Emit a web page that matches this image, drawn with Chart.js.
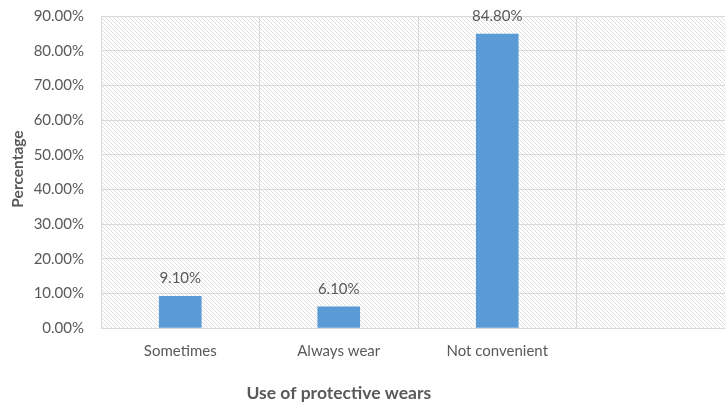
<!DOCTYPE html>
<html>
<head>
<meta charset="utf-8">
<script src="https://cdn.jsdelivr.net/npm/chart.js@4"></script>
<style>
  html, body { margin: 0; padding: 0; background: #fff; overflow: hidden; }
  #wrap { width: 740px; height: 404px; }
</style>
</head>
<body>
<div id="wrap"><canvas id="c" width="740" height="404"></canvas></div>
<script>
// Survey responses: use of protective wears
const categories = ["Sometimes", "Always wear", "Not convenient", ""];
const percentages = [9.1, 6.1, 84.8, null];
const yTicks = [0, 10, 20, 30, 40, 50, 60, 70, 80, 90];
const xTitle = "Use of protective wears";
const yTitle = "Percentage";

const TEXT = "#595959";
const FONT = "Lato, 'Liberation Sans', sans-serif";

// diagonal hatch used as plot-area background
function makeHatch() {
  const s = 4;
  const p = document.createElement("canvas");
  p.width = s; p.height = s;
  const g = p.getContext("2d");
  g.fillStyle = "#ffffff";
  g.fillRect(0, 0, s, s);
  g.strokeStyle = "#dedede";
  g.lineWidth = 1;
  g.beginPath();
  g.moveTo(-1, -1); g.lineTo(s + 1, s + 1);
  g.moveTo(-1, s - 1); g.lineTo(1, s + 1);
  g.moveTo(s - 1, -1); g.lineTo(s + 1, 1);
  g.stroke();
  return p;
}

const hatchPlugin = {
  id: "hatch",
  beforeDraw(chart) {
    const { ctx, chartArea: a } = chart;
    ctx.save();
    ctx.fillStyle = ctx.createPattern(makeHatch(), "repeat");
    ctx.fillRect(a.left, a.top, a.right - a.left, a.bottom - a.top);
    ctx.restore();
  }
};

const labelPlugin = {
  id: "valueLabels",
  afterDatasetsDraw(chart) {
    const { ctx } = chart;
    const meta = chart.getDatasetMeta(0);
    ctx.save();
    ctx.font = "15px " + FONT;
    ctx.fillStyle = TEXT;
    ctx.textAlign = "center";
    ctx.textBaseline = "middle";
    meta.data.forEach((bar, i) => {
      const v = percentages[i];
      if (v == null) return;
      ctx.fillText(v.toFixed(2) + "%", bar.x, bar.y - 18);
    });
    ctx.restore();
  }
};

const titlePlugin = {
  id: "axisTitles",
  afterDraw(chart) {
    const { ctx } = chart;
    const x = chart.scales.x;
    ctx.save();
    ctx.fillStyle = TEXT;
    ctx.textAlign = "center";
    ctx.textBaseline = "middle";
    ctx.font = "bold 17.5px " + FONT;
    ctx.fillText(xTitle, x.getPixelForValue(1), 393);
    ctx.font = "bold 15.5px " + FONT;
    ctx.translate(18, 169);
    ctx.rotate(-Math.PI / 2);
    ctx.fillText(yTitle, 0, 0);
    ctx.restore();
  }
};

new Chart(document.getElementById("c"), {
  type: "bar",
  data: {
    labels: categories,
    datasets: [{
      data: percentages,
      backgroundColor: "#5b9bd5",
      borderWidth: 0,
      barThickness: 42
    }]
  },
  options: {
    responsive: false,
    animation: false,
    layout: { padding: { top: 16, right: 5, bottom: 0, left: 0 } },
    plugins: { legend: { display: false }, tooltip: { enabled: false } },
    scales: {
      x: {
        grid: { color: "#d9d9d9", drawTicks: false },
        border: { color: "#d9d9d9" },
        ticks: { color: TEXT, font: { family: FONT, size: 15 }, padding: 14, maxRotation: 0 },
        afterFit(s) { s.height = 404 - 328; s.paddingLeft = 0; s.paddingRight = 0; }
      },
      y: {
        min: 0, max: 90,
        afterBuildTicks(s) { s.ticks = yTicks.map(v => ({ value: v })); },
        grid: { color: "#d9d9d9", drawTicks: false },
        border: { color: "#d9d9d9" },
        ticks: {
          color: TEXT, font: { family: FONT, size: 15 }, padding: 17,
          callback: v => v.toFixed(2) + "%"
        },
        afterFit(s) { s.width = 101; s.paddingTop = 0; s.paddingBottom = 0; }
      }
    }
  },
  plugins: [hatchPlugin, labelPlugin, titlePlugin]
});
</script>
</body>
</html>
